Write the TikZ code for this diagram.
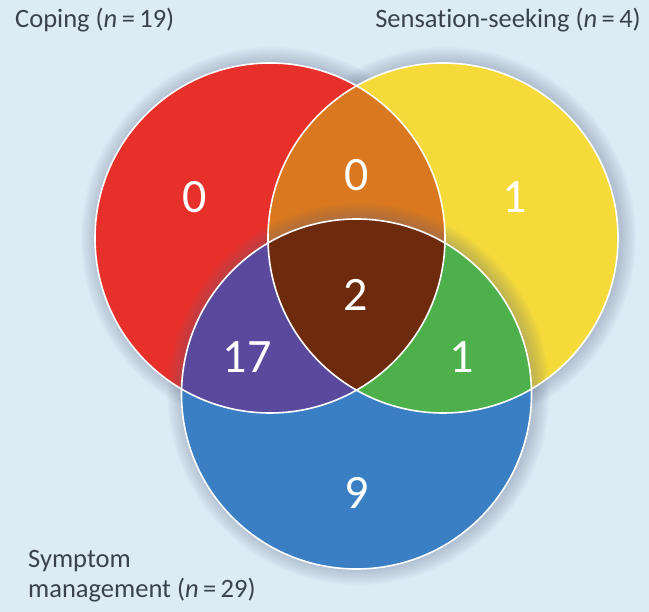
\documentclass[tikz,border=0pt]{standalone}
\usepackage{fontspec}
\setmainfont{Carlito}[Ligatures=NoCommon]
\definecolor{bgblue}{HTML}{DDEBF5}
\definecolor{copred}{HTML}{E8302B}
\definecolor{senyel}{HTML}{F5DA3A}
\definecolor{symblue}{HTML}{3A7FC4}
\definecolor{csorange}{HTML}{D9781E}
\definecolor{cmpurple}{HTML}{5A4A9E}
\definecolor{smgreen}{HTML}{4DB04A}
\definecolor{allbrown}{HTML}{6E2A0C}
\definecolor{captext}{HTML}{3A434C}
\definecolor{halo}{HTML}{5F6F8C}
\tikzset{
  num/.style={text=white, inner sep=0pt, font=\fontsize{48}{48}\selectfont},
  setname/.style={text=captext, inner sep=0pt, font=\fontsize{26.5}{28}\selectfont},
  rim/.style={draw=white, line width=1.6pt},
}
\newcommand{\rad}{175pt}
\begin{document}
\begin{tikzpicture}[x=1pt, y=-1pt]
	\fill[bgblue] (0,0) rectangle (649,612);
	\useasboundingbox (0,0) rectangle (649,612);
	\coordinate (coping) at (270,238);
	\coordinate (sensation) at (443,238);
	\coordinate (symptom) at (356.5,394);
	% soft halo round the two upper circles
	\foreach \c in {coping, sensation}
		\foreach \k in {1,...,10}
			\fill[halo, opacity=0.035] ([xshift=2pt]\c) circle (\rad+\k*1.6pt);
	\fill[copred] (coping) circle (\rad);
	\fill[senyel] (sensation) circle (\rad);
	\begin{scope}
		\clip (coping) circle (\rad);
		\fill[csorange] (sensation) circle (\rad);
	\end{scope}
	% halo of the lower circle falls on the upper ones
	\foreach \k in {1,...,10}
		\fill[halo, opacity=0.035] ([xshift=2pt]symptom) circle (\rad+\k*1.6pt);
	\fill[symblue] (symptom) circle (\rad);
	\begin{scope}
		\clip (symptom) circle (\rad);
		\fill[cmpurple] (coping) circle (\rad);
		\fill[smgreen] (sensation) circle (\rad);
		\clip (coping) circle (\rad);
		\fill[allbrown] (sensation) circle (\rad);
	\end{scope}
	\draw[rim] (coping) circle (\rad);
	\draw[rim] (sensation) circle (\rad);
	\draw[rim] (symptom) circle (\rad);
	% counts
	\node[num] (n-c) at (195,197) {0};
	\node[num] (n-cs) at (357,175) {0};
	\node[num] (n-s) at (515,197) {1};
	\node[num] (n-csm) at (356,295) {2};
	\node[num] (n-cm) at (247,357) {17};
	\node[num] (n-sm) at (462,357) {1};
	\node[num] (n-m) at (357,493) {9};
	% set names
	\node[setname, anchor=base west] (l-c) at (15,28) {Coping (\textit{n}\,=\,19)};
	\node[setname, anchor=base east] (l-s) at (641,28) {Sensation-seeking (\textit{n}\,=\,4)};
	\node[setname, anchor=base west] (l-m1) at (28,568) {Symptom};
	\node[setname, anchor=base west] (l-m2) at (28,598) {management (\textit{n}\,=\,29)};
\end{tikzpicture}
\end{document}
